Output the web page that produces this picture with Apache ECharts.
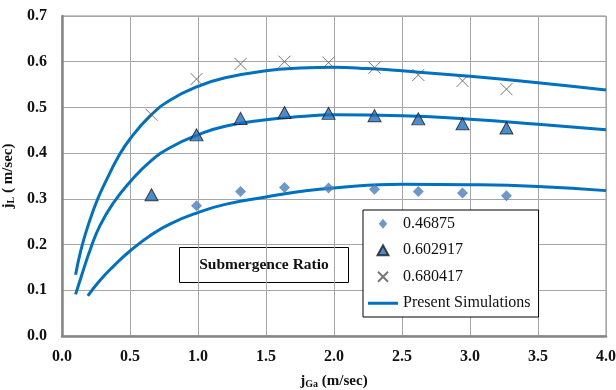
<!DOCTYPE html>
<html>
<head>
<meta charset="utf-8">
<script src="https://cdn.jsdelivr.net/npm/echarts@6/dist/echarts.min.js"></script>
<style>
  html, body { margin: 0; padding: 0; background: #fff; }
  #chart { width: 616px; height: 390px; }
</style>
</head>
<body>
<div id="chart"></div>
<script>
// experimental points, jGa (m/sec)
const expX = [0.658, 0.989, 1.313, 1.636, 1.96, 2.298, 2.62, 2.945, 3.268]
const ratio046875 = [null, 0.285, 0.316, 0.325, 0.324, 0.321, 0.316, 0.313, 0.307]
const ratio0602917 = [0.309, 0.440, 0.476, 0.489, 0.487, 0.482, 0.475, 0.464, 0.455]
const ratio0680417 = [0.484, 0.562, 0.595, 0.600, 0.598, 0.587, 0.571, 0.558, 0.540]

// present simulations
const simHighX = [0.1, 0.14, 0.19, 0.26, 0.33, 0.41, 0.5, 0.65, 0.8, 1.0, 1.2, 1.5, 1.75, 2.0, 2.25, 2.5, 3.0, 3.5, 4.0]
const simHigh = [0.134, 0.189, 0.240, 0.298, 0.343, 0.390, 0.431, 0.482, 0.517, 0.546, 0.565, 0.580, 0.586, 0.588, 0.585, 0.580, 0.568, 0.554, 0.538]
const simMidX = [0.1, 0.15, 0.21, 0.28, 0.38, 0.5, 0.65, 0.8, 1.0, 1.2, 1.5, 1.75, 2.0, 2.5, 3.0, 3.5, 4.0]
const simMid = [0.091, 0.138, 0.191, 0.242, 0.292, 0.337, 0.382, 0.413, 0.440, 0.459, 0.473, 0.480, 0.484, 0.482, 0.474, 0.463, 0.451]
const simLowX = [0.19, 0.28, 0.38, 0.5, 0.66, 0.8, 1.0, 1.2, 1.5, 1.75, 2.0, 2.5, 3.0, 3.5, 4.0]
const simLow = [0.088, 0.122, 0.153, 0.186, 0.222, 0.246, 0.270, 0.288, 0.304, 0.316, 0.324, 0.332, 0.331, 0.327, 0.318]

const xTicks = [0, 0.5, 1, 1.5, 2, 2.5, 3, 3.5, 4]
const yTicks = [0, 0.1, 0.2, 0.3, 0.4, 0.5, 0.6, 0.7]

const SERIF = '"Liberation Serif", "Times New Roman", serif'
const SIM_NAME = 'Present Simulations'
const crossPath = 'path://M0,0L10,10M10,0L0,10'

const pair = (xs, ys) => xs.map((x, i) => [x, ys[i]]).filter(p => p[1] != null)

const chart = echarts.init(document.getElementById('chart'), null, { renderer: 'canvas' })

const simLine = (data) => ({
  name: SIM_NAME,
  type: 'line',
  data,
  smooth: 0.5,
  symbol: 'none',
  lineStyle: { color: '#0070C0', width: 3 },
  itemStyle: { color: '#0070C0' },
  z: 2
})

const axisText = { fontFamily: SERIF, fontSize: 16, fontWeight: 'bold', color: '#111' }
const nameText = {
  fontFamily: SERIF, fontSize: 15, fontWeight: 'bold', color: '#111',
  rich: { s: { fontFamily: SERIF, fontSize: 10, fontWeight: 'bold', color: '#111', verticalAlign: 'bottom', padding: [6, 0, 0, 0] } }
}

chart.setOption({
  animation: false,
  grid: {
    left: 62,
    right: 10,
    top: 16,
    bottom: 54,
    containLabel: false,
    outerBoundsMode: 'none',
    show: true,
    borderColor: '#8c8c8c',
    borderWidth: 1
  },
  xAxis: {
    type: 'value',
    min: xTicks[0],
    max: xTicks[xTicks.length - 1],
    interval: 0.5,
    name: 'j{s|Ga} (m/sec)',
    nameLocation: 'middle',
    nameGap: 37,
    nameTextStyle: nameText,
    axisLine: { show: true, lineStyle: { color: '#868686', width: 2.5 } },
    axisTick: { show: false },
    splitLine: { show: true, lineStyle: { color: '#a6a6a6', width: 1 } },
    axisLabel: Object.assign({ margin: 13, formatter: v => v.toFixed(1) }, axisText)
  },
  yAxis: {
    type: 'value',
    min: yTicks[0],
    max: yTicks[yTicks.length - 1],
    interval: 0.1,
    name: 'j{s|L} ( m/sec)',
    nameLocation: 'middle',
    nameGap: 45,
    nameTextStyle: nameText,
    axisLine: { show: true, lineStyle: { color: '#868686', width: 2.5 } },
    axisTick: { show: false },
    splitLine: { show: true, lineStyle: { color: '#a6a6a6', width: 1 } },
    axisLabel: Object.assign({ margin: 15, formatter: v => v.toFixed(1) }, axisText)
  },
  legend: {
    orient: 'vertical',
    left: 363,
    top: 210,
    itemWidth: 30,
    itemHeight: 10,
    itemGap: 9,
    padding: [5, 8, 5, 5],
    borderColor: '#000',
    borderWidth: 1,
    backgroundColor: '#fff',
    textStyle: { fontFamily: SERIF, fontSize: 16, color: '#111', lineHeight: 17.5 },
    data: [
      { name: '0.46875', icon: 'path://M5,0L10,6L5,12L0,6Z', itemStyle: { borderWidth: 0 } },
      { name: '0.602917', icon: 'path://M6,0L12,11L0,11Z' },
      { name: '0.680417', icon: crossPath },
      { name: SIM_NAME, icon: 'path://M0,0H30V3H0Z' }
    ]
  },
  graphic: [
    {
      type: 'group',
      left: 179,
      top: 247,
      children: [
        { type: 'rect', shape: { x: 0, y: 0, width: 169, height: 35 }, style: { fill: '#fff', stroke: '#000', lineWidth: 1 } },
        {
          type: 'text', x: 84.5, y: 17.5,
          style: { text: 'Submergence Ratio', fontFamily: SERIF, fontSize: 15.5, fontWeight: 'bold', fill: '#111', align: 'center', verticalAlign: 'middle' }
        }
      ]
    }
  ],
  series: [
    {
      name: '0.46875',
      type: 'scatter',
      data: pair(expX, ratio046875),
      symbol: 'diamond',
      symbolSize: 11,
      itemStyle: { color: '#4A7EBB' },
      z: 3
    },
    {
      name: '0.602917',
      type: 'scatter',
      data: pair(expX, ratio0602917),
      symbol: 'triangle',
      symbolSize: [13, 12],
      itemStyle: { color: '#1E6FBF', borderColor: '#1a1a1a', borderWidth: 1 },
      z: 3
    },
    {
      name: '0.680417',
      type: 'scatter',
      data: pair(expX, ratio0680417),
      symbol: crossPath,
      symbolSize: 12,
      itemStyle: { color: '#555', borderColor: '#555', borderWidth: 1 },
      z: 3
    },
    simLine(pair(simHighX, simHigh)),
    simLine(pair(simMidX, simMid)),
    simLine(pair(simLowX, simLow))
  ]
})
</script>
</body>
</html>
